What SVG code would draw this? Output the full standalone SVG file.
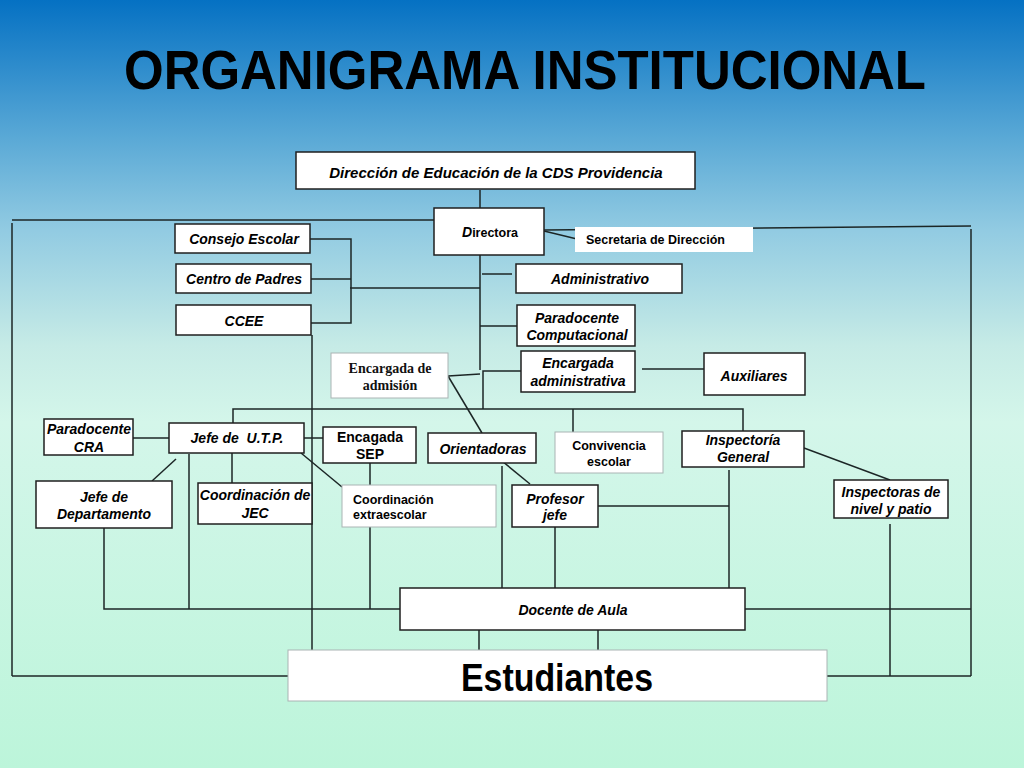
<svg xmlns="http://www.w3.org/2000/svg" width="1024" height="768" viewBox="0 0 1024 768">
<defs>
<linearGradient id="bg" x1="0" y1="0" x2="0" y2="1">
<stop offset="0" stop-color="#0571c3"/>
<stop offset="0.18" stop-color="#5aa9d6"/>
<stop offset="0.3" stop-color="#92cbe2"/>
<stop offset="0.45" stop-color="#c6ebe6"/>
<stop offset="0.55" stop-color="#d4f6ea"/>
<stop offset="1" stop-color="#bcf5da"/>
</linearGradient>
<style>
.box{fill:#fff;stroke:#1f1f1f;stroke-width:1.5}
.lbox{fill:#fff;stroke:#aab4b4;stroke-width:1}
.nbox{fill:#fff;stroke:none}
.t{font-family:"Liberation Sans",Arial,sans-serif;font-weight:bold;font-style:italic;font-size:14px;text-anchor:middle;fill:#000}
.n{font-style:normal}
.sm{font-size:12.5px}
.st{text-anchor:start}
.s{font-family:"Liberation Serif","Times New Roman",serif;font-weight:bold;font-size:14px;text-anchor:middle;fill:#111}
#connectors line,#connectors path{stroke:#1c2626;stroke-width:1.5;fill:none}
</style>
</defs>
<rect x="0" y="0" width="1024" height="768" fill="url(#bg)"/>
<text x="525" y="89" font-family="Liberation Sans,Arial,sans-serif" font-weight="bold" font-size="55" text-anchor="middle" textLength="802" lengthAdjust="spacingAndGlyphs" fill="#000">ORGANIGRAMA INSTITUCIONAL</text>

<g id="connectors">
<line x1="480" y1="190" x2="480" y2="208"/>
<line x1="12" y1="220" x2="434" y2="220"/>
<line x1="12" y1="223" x2="12" y2="676"/>
<line x1="12" y1="676" x2="288" y2="676"/>
<line x1="544" y1="230" x2="971" y2="226"/>
<line x1="544" y1="231" x2="577" y2="239"/>
<line x1="971" y1="229" x2="971" y2="676"/>
<line x1="827" y1="676" x2="971" y2="676"/>
<line x1="745" y1="609" x2="971" y2="609"/>
<line x1="480" y1="255" x2="480" y2="370"/>
<line x1="482" y1="274" x2="512" y2="274"/>
<line x1="350" y1="288" x2="480" y2="288"/>
<line x1="480" y1="326" x2="517" y2="326"/>
<path d="M310,239 H351 V323 H311"/>
<line x1="311" y1="279" x2="351" y2="279"/>
<line x1="312" y1="335" x2="312" y2="650"/>
<line x1="448" y1="376" x2="480" y2="374"/>
<path d="M521,371 H483 V409"/>
<line x1="642" y1="369" x2="704" y2="369"/>
<path d="M233,423 V409 H743 V431"/>
<line x1="573" y1="409" x2="573" y2="432"/>
<line x1="448" y1="376" x2="482" y2="433"/>
<line x1="133" y1="438" x2="169" y2="438"/>
<line x1="304" y1="438" x2="323" y2="438"/>
<line x1="176" y1="459" x2="152" y2="481"/>
<line x1="189" y1="454" x2="189" y2="609"/>
<line x1="232" y1="453" x2="232" y2="483"/>
<line x1="301" y1="453" x2="342" y2="487"/>
<line x1="370" y1="463" x2="370" y2="485"/>
<line x1="370" y1="527" x2="370" y2="609"/>
<path d="M104,528 V609 H400"/>
<line x1="502" y1="466" x2="502" y2="588"/>
<line x1="502" y1="461" x2="530" y2="484"/>
<line x1="598" y1="506" x2="729" y2="506"/>
<line x1="729" y1="470" x2="729" y2="588"/>
<line x1="555" y1="527" x2="555" y2="588"/>
<line x1="804" y1="448" x2="890" y2="480"/>
<line x1="890" y1="524" x2="890" y2="676"/>
<line x1="479" y1="630" x2="479" y2="650"/>
<line x1="598" y1="630" x2="598" y2="650"/>
</g>

<g id="direccion"><rect class="box" x="296" y="152" width="399" height="37"/><text class="t" x="496" y="178" style="font-size:15px">Dirección de Educación de la CDS Providencia</text></g>
<g id="directora"><rect class="box" x="434" y="208" width="110" height="47"/><text class="t n sm" x="490" y="237"><tspan style="font-style:italic;font-size:14px">D</tspan>irectora</text></g>
<g id="secretaria"><rect class="nbox" x="575" y="227" width="178" height="25"/><text class="t n sm st" x="586" y="244">Secretaria de Dirección</text></g>
<g id="consejo"><rect class="box" x="175" y="224" width="135" height="29"/><text class="t" x="244" y="244">Consejo Escolar</text></g>
<g id="centro"><rect class="box" x="176" y="264" width="135" height="29"/><text class="t" x="244" y="284">Centro de Padres</text></g>
<g id="ccee"><rect class="box" x="176" y="305" width="135" height="30"/><text class="t" x="244" y="326">CCEE</text></g>
<g id="administrativo"><rect class="box" x="516" y="264" width="166" height="29"/><text class="t" x="600" y="284">Administrativo</text></g>
<g id="paradocente-comp"><rect class="box" x="517" y="305" width="118" height="41"/><text class="t" x="577" y="323">Paradocente</text><text class="t" x="577" y="340">Computacional</text></g>
<g id="admision"><rect class="lbox" x="331" y="353" width="117" height="45"/><text class="s" x="390" y="373">Encargada de</text><text class="s" x="390" y="390">admisión</text></g>
<g id="encargada-admin"><rect class="box" x="521" y="351" width="114" height="41"/><text class="t" x="578" y="368">Encargada</text><text class="t" x="578" y="386">administrativa</text></g>
<g id="auxiliares"><rect class="box" x="704" y="353" width="101" height="42"/><text class="t" x="754" y="381">Auxiliares</text></g>
<g id="paradocente-cra"><rect class="box" x="44" y="419" width="89" height="36"/><text class="t" x="89" y="434">Paradocente</text><text class="t" x="89" y="452">CRA</text></g>
<g id="utp"><rect class="box" x="169" y="423" width="135" height="30"/><text class="t" x="237" y="443" xml:space="preserve">Jefe de  U.T.P.</text></g>
<g id="sep"><rect class="box" x="323" y="427" width="93" height="36"/><text class="t n" x="370" y="442">Encagada</text><text class="t n" x="370" y="459">SEP</text></g>
<g id="orientadoras"><rect class="box" x="428" y="433" width="108" height="30"/><text class="t" x="483" y="454">Orientadoras</text></g>
<g id="convivencia"><rect class="lbox" x="555" y="432" width="108" height="41"/><text class="t n sm" x="609" y="450">Convivencia</text><text class="t n sm" x="609" y="466">escolar</text></g>
<g id="inspectoria"><rect class="box" x="682" y="431" width="122" height="36"/><text class="t" x="743" y="445">Inspectoría</text><text class="t" x="743" y="462">General</text></g>
<g id="jefe-depto"><rect class="box" x="36" y="481" width="136" height="47"/><text class="t" x="104" y="502">Jefe de</text><text class="t" x="104" y="519">Departamento</text></g>
<g id="jec"><rect class="box" x="198" y="483" width="114" height="41"/><text class="t" x="255" y="500">Coordinación de</text><text class="t" x="255" y="518">JEC</text></g>
<g id="extraescolar"><rect class="lbox" x="342" y="485" width="154" height="42"/><text class="t n sm st" x="353" y="504">Coordinación</text><text class="t n sm st" x="353" y="519">extraescolar</text></g>
<g id="profesor"><rect class="box" x="512" y="485" width="86" height="42"/><text class="t" x="555" y="504">Profesor</text><text class="t" x="555" y="520">jefe</text></g>
<g id="inspectoras"><rect class="box" x="834" y="480" width="114" height="38"/><text class="t" x="891" y="497">Inspectoras de</text><text class="t" x="891" y="514">nivel y patio</text></g>
<g id="docente"><rect class="box" x="400" y="588" width="345" height="42"/><text class="t" x="573" y="615">Docente de Aula</text></g>
<g id="estudiantes"><rect class="lbox" x="288" y="650" width="539" height="51"/><text x="557" y="691" font-family="Liberation Sans,Arial,sans-serif" font-weight="bold" font-size="38" text-anchor="middle" textLength="192" lengthAdjust="spacingAndGlyphs" fill="#000">Estudiantes</text></g>
</svg>
